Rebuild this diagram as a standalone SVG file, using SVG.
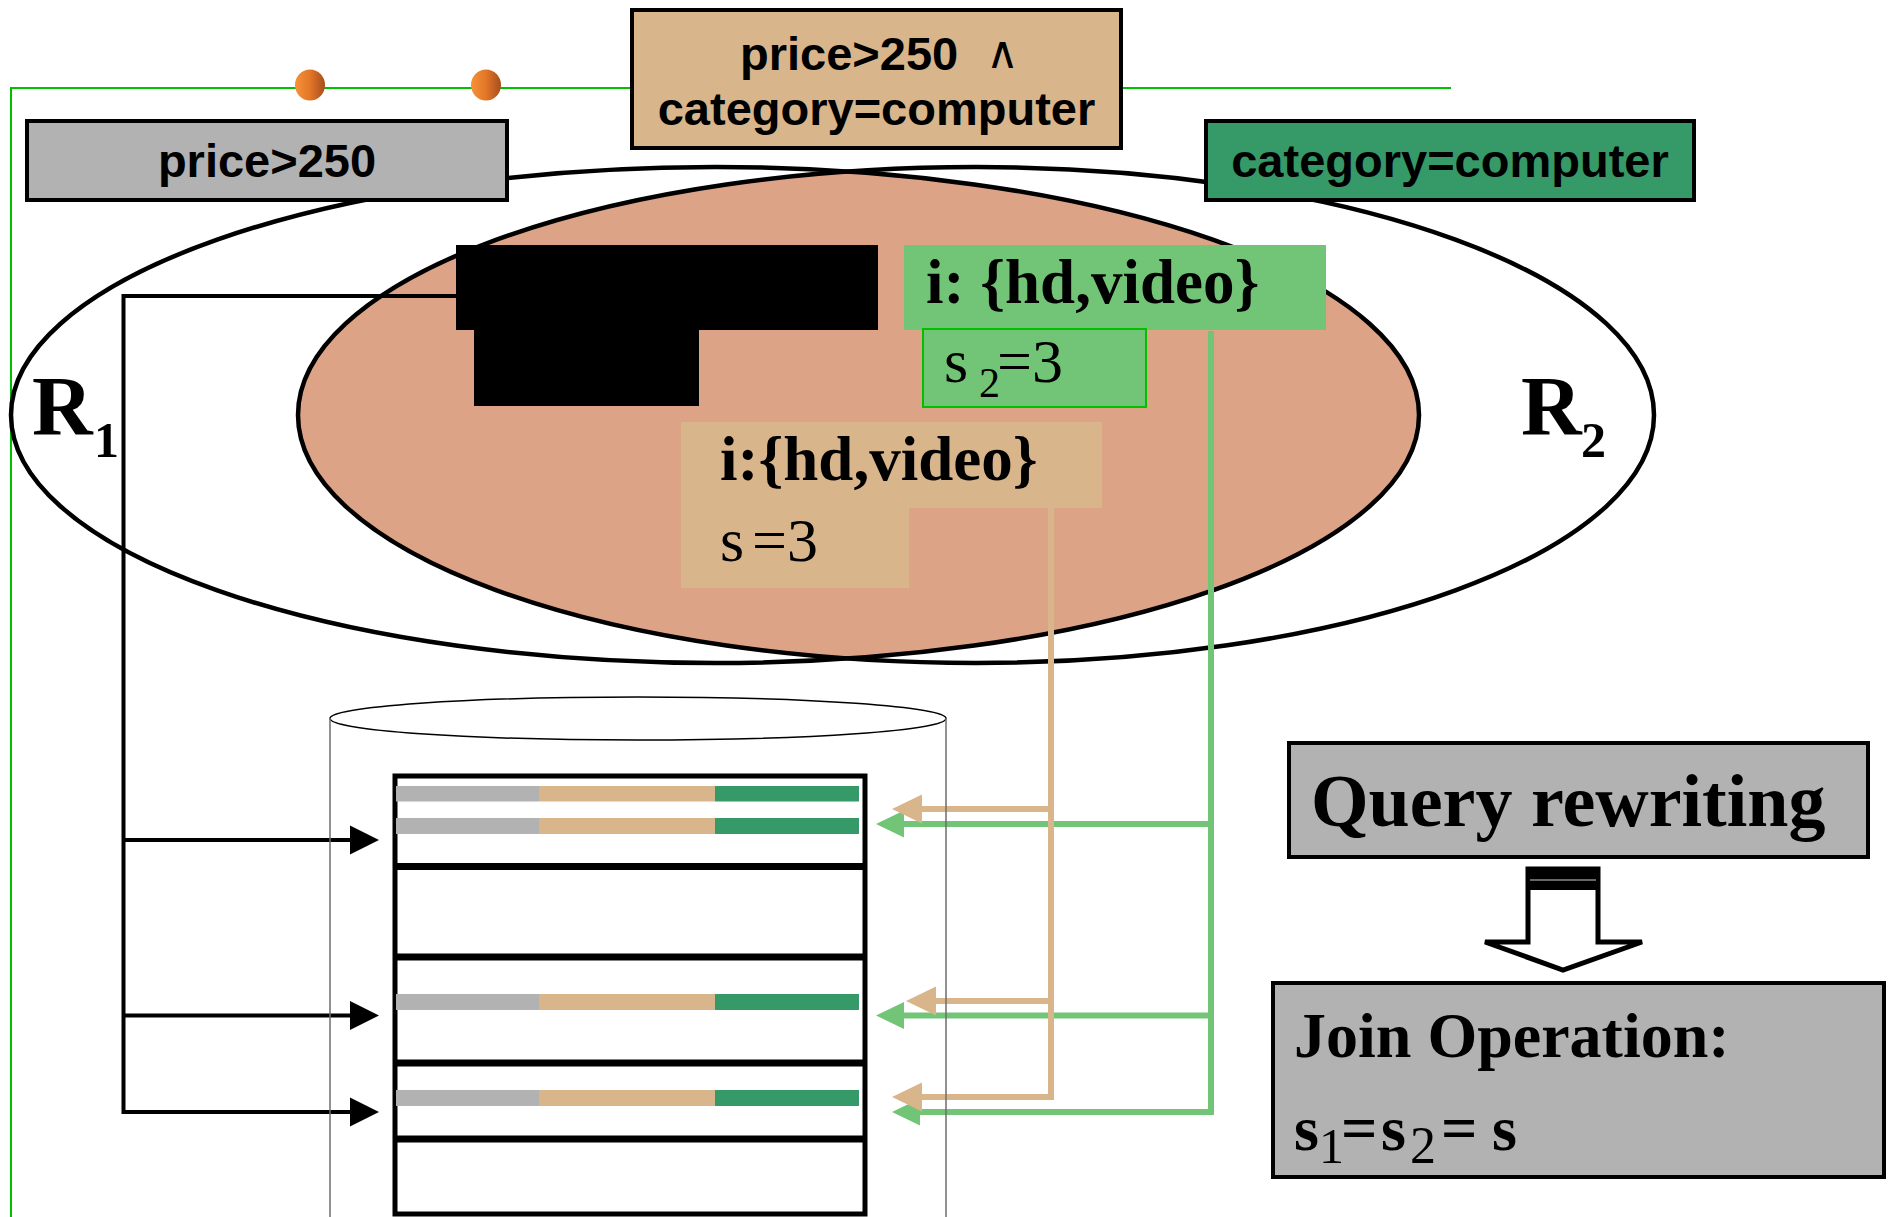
<svg xmlns="http://www.w3.org/2000/svg" width="1890" height="1217" viewBox="0 0 1890 1217">
  <defs>
    <style>
      .sans{font-family:"Liberation Sans",Arial,sans-serif;font-weight:bold;font-size:47px;fill:#000}
      .serif{font-family:"Liberation Serif","Times New Roman",serif;fill:#000}
      .b{font-weight:bold}
      .gray{fill:#b2b2b2}
      .tan{fill:#d9b58c}
      .lgreen{fill:#72c576}
      .dgreen{fill:#359a68}
      .frame{stroke:#000;stroke-width:4}
      .ring{fill:none;stroke:#000;stroke-width:4.5}
      .wire{fill:none;stroke:#00c000;stroke-width:2}
      .cyl{fill:none;stroke:#6e6e6e;stroke-width:1.5}
      .sep{stroke:#000;stroke-width:7}
      .c-black{fill:none;stroke:#000;stroke-width:4}
      .c-tan{fill:none;stroke:#d9b58c;stroke-width:6}
      .c-green{fill:none;stroke:#72c576;stroke-width:6}
    </style>
    <linearGradient id="dotFill" x1="0" y1="0" x2="1" y2="0">
      <stop offset="0" stop-color="#f7923a"/>
      <stop offset="0.5" stop-color="#e27628"/>
      <stop offset="1" stop-color="#a64e1c"/>
    </linearGradient>
    <clipPath id="r1Area">
      <ellipse cx="715" cy="415" rx="704" ry="248"/>
    </clipPath>
    <marker id="headBlack" markerUnits="userSpaceOnUse" markerWidth="30" markerHeight="30" refX="0" refY="14.5" orient="auto" overflow="visible">
      <path d="M0,0 L29,14.5 L0,29 Z" fill="#000"/>
    </marker>
    <marker id="headTan" markerUnits="userSpaceOnUse" markerWidth="30" markerHeight="30" refX="0" refY="14.5" orient="auto" overflow="visible">
      <path d="M0,0 L30,14.5 L0,29 Z" fill="#d9b58c"/>
    </marker>
    <marker id="headGreen" markerUnits="userSpaceOnUse" markerWidth="30" markerHeight="30" refX="0" refY="13.5" orient="auto" overflow="visible">
      <path d="M0,0 L28,13.5 L0,27 Z" fill="#72c576"/>
    </marker>
  </defs>

  <rect width="1890" height="1217" fill="#fff"/>

  <!-- thin green frame line with its two handles -->
  <g id="frame">
    <path d="M11,1217 V88 H1451" class="wire"/>
    <ellipse cx="310" cy="85" rx="15" ry="15.5" fill="url(#dotFill)"/>
    <ellipse cx="486" cy="85" rx="15" ry="15.5" fill="url(#dotFill)"/>
  </g>

  <!-- the two result sets and their overlap -->
  <g id="regions">
    <ellipse cx="976" cy="415" rx="678" ry="248" fill="#dda386" clip-path="url(#r1Area)"/>
    <ellipse id="R1" cx="715" cy="415" rx="704" ry="248" class="ring"/>
    <ellipse id="R2" cx="976" cy="415" rx="678" ry="248" class="ring"/>
    <text class="serif b" x="32" y="435" font-size="84">R</text>
    <text class="serif b" x="94" y="457" font-size="50">1</text>
    <text class="serif b" x="1521" y="435" font-size="84">R</text>
    <text class="serif b" x="1581" y="457" font-size="50">2</text>
  </g>

  <g id="query-both">
    <rect x="632" y="10" width="489" height="138" class="tan frame"/>
    <text class="sans" x="740" y="70">price&gt;250</text>
    <text x="986" y="68" font-family="DejaVu Sans,sans-serif" font-size="45" fill="#000">∧</text>
    <text class="sans" x="876.5" y="125" text-anchor="middle">category=computer</text>
  </g>

  <g id="query-price">
    <rect x="27" y="121" width="480" height="79" class="gray frame"/>
    <text class="sans" x="267" y="177" text-anchor="middle">price&gt;250</text>
  </g>

  <g id="query-category">
    <rect x="1206" y="121" width="488" height="79" class="dgreen frame"/>
    <text class="sans" x="1450" y="177" text-anchor="middle">category=computer</text>
  </g>

  <g id="entry-r1">
    <rect x="456" y="245" width="422" height="85" fill="#000"/>
    <rect x="474" y="329" width="225" height="77" fill="#000"/>
  </g>

  <g id="entry-r2">
    <rect x="904" y="245" width="422" height="85" class="lgreen"/>
    <text class="serif b" x="926" y="303" font-size="63">i: {hd,video}</text>
    <rect x="923" y="329" width="223" height="78" class="lgreen" stroke="#00c000" stroke-width="2"/>
    <text class="serif" y="382" font-size="62"><tspan x="944">s</tspan><tspan x="979" y="397" font-size="42">2</tspan><tspan x="997" y="382">=3</tspan></text>
  </g>

  <g id="entry-both">
    <path d="M681,422 H1102 V508 H909 V588 H681 Z" class="tan"/>
    <text class="serif b" x="720" y="480" font-size="63">i:{hd,video}</text>
    <text class="serif" x="720" y="561" font-size="62">s<tspan x="752">=3</tspan></text>
  </g>

  <g id="connectors">
    <path d="M456,296 H123.5 V1112 H350" class="c-black" marker-end="url(#headBlack)"/>
    <path d="M123.5,840 H350" class="c-black" marker-end="url(#headBlack)"/>
    <path d="M123.5,1015.5 H350" class="c-black" marker-end="url(#headBlack)"/>

    <path d="M1211,331 V1112 H920" class="c-green" marker-end="url(#headGreen)"/>
    <path d="M1211,824 H904" class="c-green" marker-end="url(#headGreen)"/>
    <path d="M1211,1015.5 H904" class="c-green" marker-end="url(#headGreen)"/>

    <path d="M1051,507 V1097 H922" class="c-tan" marker-end="url(#headTan)"/>
    <path d="M1051,809 H922" class="c-tan" marker-end="url(#headTan)"/>
    <path d="M1051,1001 H936" class="c-tan" marker-end="url(#headTan)"/>
  </g>

  <g id="database">
    <ellipse cx="638" cy="718.5" rx="308" ry="21.5" fill="none" stroke="#000" stroke-width="1.5"/>
    <path d="M330,718 V1217 M946,718 V1217" class="cyl"/>
    <rect x="395" y="776" width="470" height="438" fill="#fff" stroke="#000" stroke-width="5"/>
    <path d="M395,866.5 H865 M395,957 H865 M395,1063 H865 M395,1139 H865" class="sep"/>
    <g id="records">
      <rect x="396" y="786" width="143" height="15.5" class="gray"/>
      <rect x="539" y="786" width="176" height="15.5" class="tan"/>
      <rect x="715" y="786" width="144" height="15.5" class="dgreen"/>
      <rect x="396" y="818" width="143" height="16" class="gray"/>
      <rect x="539" y="818" width="176" height="16" class="tan"/>
      <rect x="715" y="818" width="144" height="16" class="dgreen"/>
      <rect x="396" y="994" width="143" height="16" class="gray"/>
      <rect x="539" y="994" width="176" height="16" class="tan"/>
      <rect x="715" y="994" width="144" height="16" class="dgreen"/>
      <rect x="396" y="1090" width="143" height="16" class="gray"/>
      <rect x="539" y="1090" width="176" height="16" class="tan"/>
      <rect x="715" y="1090" width="144" height="16" class="dgreen"/>
    </g>
  </g>

  <g id="rewriting">
    <rect x="1289" y="743" width="579" height="114" class="gray frame"/>
    <text class="serif b" x="1311" y="826" font-size="74">Query rewriting</text>
  </g>

  <g id="step-arrow">
    <path d="M1528,869 H1598 V942 H1642 L1563,970 L1485,942 H1528 Z" fill="#fff" stroke="#000" stroke-width="5"/>
    <rect x="1528" y="869" width="70" height="21" fill="#000"/>
    <line x1="1530" y1="880" x2="1596" y2="880" stroke="#8a8a8a" stroke-width="1.5"/>
  </g>

  <g id="join">
    <rect x="1273" y="983" width="611" height="194" class="gray frame"/>
    <text class="serif b" x="1294" y="1057" font-size="64">Join Operation:</text>
    <text class="serif b" y="1150" font-size="64"><tspan x="1294">s</tspan><tspan x="1319" y="1163" font-size="50" font-weight="normal">1</tspan><tspan x="1341" y="1150">=</tspan><tspan x="1381">s</tspan><tspan x="1410" y="1163" font-size="52" font-weight="normal">2</tspan><tspan x="1441" y="1150">=</tspan><tspan x="1492">s</tspan></text>
  </g>
</svg>
